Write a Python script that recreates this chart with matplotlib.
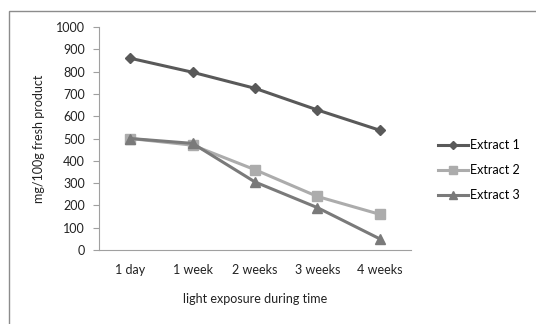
import matplotlib
matplotlib.use("Agg")
import matplotlib.pyplot as plt
from matplotlib.patches import Rectangle

categories = ["1 day", "1 week", "2 weeks", "3 weeks", "4 weeks"]
extract1 = [860, 797, 725, 628, 537]
extract2 = [500, 470, 360, 240, 160]
extract3 = [500, 478, 305, 190, 50]
yticks = [0, 100, 200, 300, 400, 500, 600, 700, 800, 900, 1000]

plt.rcParams['font.family'] = ['Lato', 'DejaVu Sans']

W, H = 536, 324
fig = plt.figure(figsize=(W/100, H/100), dpi=100)
fig.patch.set_facecolor('white')
fig.add_artist(Rectangle((9/W, -0.05), (W+20)/W, (H-11)/H + 0.05, transform=fig.transFigure,
                         fill=False, edgecolor='#8c8c8c', linewidth=1.0))

ax = fig.add_axes([99/W, 1-250/H, (411-99)/W, (250-27)/H])
x = list(range(len(categories)))
ax.plot(x, extract1, color='#595959', lw=2.2, marker='D', ms=5.5, label='Extract 1')
ax.plot(x, extract2, color='#acacac', lw=2.2, marker='s', ms=7, label='Extract 2')
ax.plot(x, extract3, color='#7a7a7a', lw=2.2, marker='^', ms=7, label='Extract 3')

ax.set_xlim(-0.5, len(categories)-0.5)
ax.set_ylim(0, 1000)
ax.set_yticks(yticks)
ax.set_yticklabels([str(v) for v in yticks], fontsize=9, color='#222222')
ax.set_xticks(x)
ax.set_xticklabels(categories, fontsize=9, color='#222222')
ax.tick_params(axis='x', length=0, pad=10)
ax.tick_params(axis='y', length=4, color='#a0a0a0', width=0.8, pad=6)
for s in ['top', 'right']:
    ax.spines[s].set_visible(False)
ax.spines['left'].set_color('#a0a0a0')
ax.spines['bottom'].set_color('#a0a0a0')
ax.set_ylabel('mg/100g fresh product', fontsize=9, color='#222222', labelpad=8)
ax.set_xlabel('light exposure during time', fontsize=9, color='#222222', labelpad=12)

ax.legend(loc='center left', bbox_to_anchor=(427/W, 1-170/H), bbox_transform=fig.transFigure,
          frameon=False, fontsize=9, handlelength=2.4, handletextpad=0.1, labelspacing=1.05,
          markerscale=0.8)

fig.savefig('out.png', dpi=100)
